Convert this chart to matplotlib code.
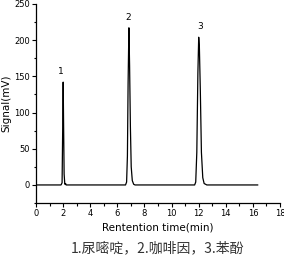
import matplotlib
matplotlib.use("Agg")
import matplotlib.pyplot as plt
from matplotlib.ticker import MultipleLocator

# chromatogram trace (time in min, signal in mV)
time = [0.0, 1.84, 1.92, 1.96, 2.0, 2.03, 2.07, 2.12, 2.18, 2.22, 2.3,
        6.6, 6.68, 6.74, 6.79, 6.85, 6.9, 6.96, 7.02, 7.1, 7.2, 7.3,
        11.7, 11.78, 11.86, 11.94, 12.0, 12.05, 12.12, 12.2, 12.3, 12.4, 12.6, 16.35]
signal = [0, 0, 3, 70, 142, 85, 15, 1, 2, 0, 0,
          0, 4, 40, 140, 217, 165, 80, 25, 6, 1, 0,
          0, 4, 45, 155, 204, 190, 130, 45, 10, 2, 0, 0]

peak_labels = ["1", "2", "3"]
peak_times = [1.8, 6.8, 12.1]
peak_heights = [142, 217, 204]

caption = "1.尿嘧啶，2.咖啡因，3.苯酚"

fig = plt.figure(figsize=(2.84, 2.61), dpi=100)
ax = fig.add_axes([0.127, 0.222, 0.859, 0.763])

ax.plot(time, signal, color="black", lw=0.9)

for lab, t, h in zip(peak_labels, peak_times, peak_heights):
    ax.text(t, h + 8, lab, ha="center", va="bottom", fontsize=6.5)

ax.set_xlim(0, 18)
ax.set_ylim(-25, 250)
ax.xaxis.set_major_locator(MultipleLocator(2))
ax.xaxis.set_minor_locator(MultipleLocator(1))
ax.yaxis.set_major_locator(MultipleLocator(50))
ax.yaxis.set_minor_locator(MultipleLocator(25))
ax.tick_params(which="major", direction="out", length=3, width=0.8, labelsize=6, pad=1.5)
ax.tick_params(which="minor", direction="out", length=1.8, width=0.8)

for s in ["top", "right"]:
    ax.spines[s].set_visible(False)
for s in ["left", "bottom"]:
    ax.spines[s].set_linewidth(0.9)

ax.set_xlabel("Rentention time(min)", fontsize=7.5, labelpad=3)
ax.set_ylabel("Signal(mV)", fontsize=7.5, labelpad=2)

fig.text(0.553, 0.022, caption, ha="center", va="bottom", fontsize=10,
         color="#333333", family=["Noto Sans CJK SC", "DejaVu Sans"])

fig.savefig("out.png", dpi=100)
